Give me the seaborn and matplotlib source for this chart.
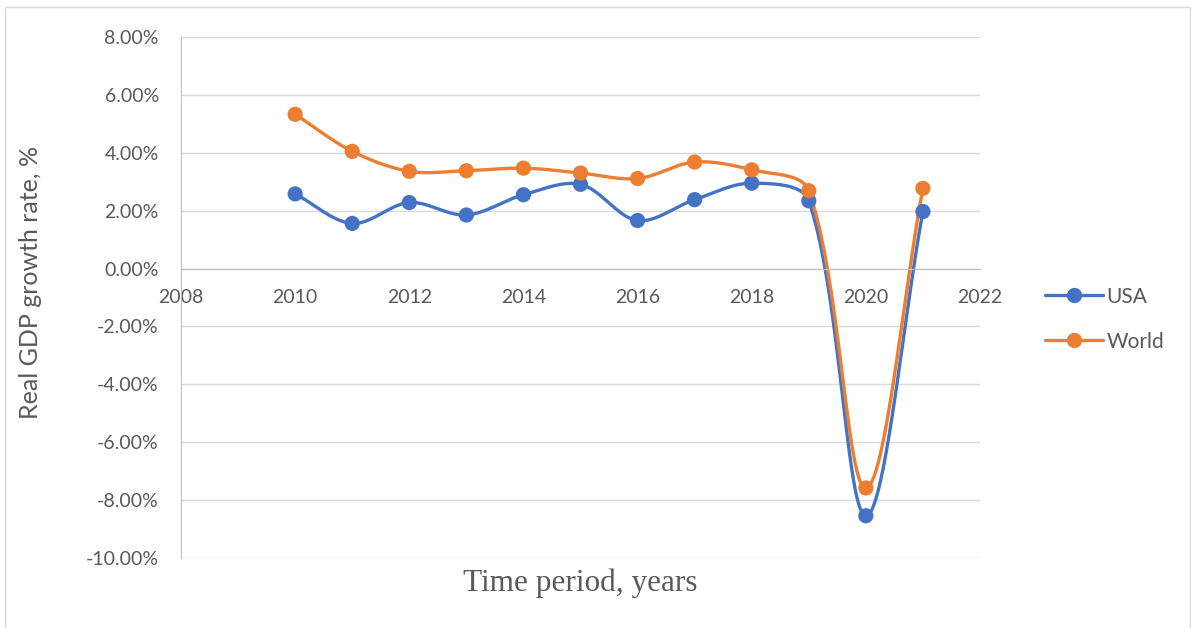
import numpy as np
import pandas as pd
import seaborn as sns
import matplotlib
matplotlib.use("Agg")
import matplotlib.pyplot as plt
from matplotlib.ticker import PercentFormatter
from matplotlib.lines import Line2D
from matplotlib.patches import Rectangle

# data
years = [2010, 2011, 2012, 2013, 2014, 2015, 2016, 2017, 2018, 2019, 2020, 2021]
usa = [2.58, 1.56, 2.28, 1.85, 2.55, 2.91, 1.66, 2.38, 2.95, 2.34, -8.54, 1.97]
world = [5.33, 4.05, 3.36, 3.38, 3.47, 3.30, 3.11, 3.68, 3.41, 2.69, -7.58, 2.77]
series_names = ["USA", "World"]
colors = {"USA": "#4472C4", "World": "#ED7D31"}

# pixel size of one x unit / one y unit, used only to weight the smoothing
XPX, YPX = 57.07, 28.94


def smooth(x, y, n=40):
    # excel-like smoothed line: bezier with chord-length weighted tangents
    x = np.asarray(x, float)
    y = np.asarray(y, float)
    px = np.concatenate([[x[0]], x, [x[-1]]])
    py = np.concatenate([[y[0]], y, [y[-1]]])
    P = np.column_stack([px, py])
    S = np.array([XPX, YPX])
    d = [np.linalg.norm((P[i + 1] - P[i]) * S) for i in range(len(P) - 1)]
    xs, ys = [], []
    t = np.linspace(0, 1, n)
    for i in range(1, len(P) - 2):
        p0, p3 = P[i], P[i + 1]
        a = d[i] / (d[i - 1] + d[i]) if d[i - 1] + d[i] > 0 else 0.5
        b = d[i] / (d[i] + d[i + 1]) if d[i] + d[i + 1] > 0 else 0.5
        p1 = p0 + (P[i + 1] - P[i - 1]) * a / 3
        p2 = p3 - (P[i + 2] - P[i]) * b / 3
        c = ((1 - t) ** 3)[:, None] * p0 + (3 * (1 - t) ** 2 * t)[:, None] * p1 \
            + (3 * (1 - t) * t ** 2)[:, None] * p2 + (t ** 3)[:, None] * p3
        xs.extend(c[:, 0])
        ys.extend(c[:, 1])
    return xs, ys


frames = []
pts = []
for name, vals in zip(series_names, [usa, world]):
    sx, sy = smooth(years, vals)
    frames.append(pd.DataFrame({"x": sx, "y": sy, "series": name}))
    pts.append(pd.DataFrame({"x": years, "y": vals, "series": name}))
curve = pd.concat(frames, ignore_index=True)
points = pd.concat(pts, ignore_index=True)

sns.set_style("white")
plt.rcParams["axes.unicode_minus"] = False
plt.rcParams["font.family"] = ["Lato", "DejaVu Sans"]

fig = plt.figure(figsize=(11.91, 6.28), dpi=100)
ax = fig.add_axes([181 / 1191, 1 - 558 / 628, (980 - 181) / 1191, (558 - 37) / 628])

sns.lineplot(data=curve, x="x", y="y", hue="series", palette=colors, sort=False,
             estimator=None, linewidth=2.4, legend=False, ax=ax)
sns.scatterplot(data=points, x="x", y="y", hue="series", palette=colors, s=120,
                edgecolor="none", legend=False, ax=ax, zorder=3)

ax.set_xlim(2008, 2022)
ax.set_ylim(-10, 8)
ax.set_xticks(range(2008, 2023, 2))
ax.set_yticks(np.arange(-10, 8.1, 2))
ax.yaxis.set_major_formatter(PercentFormatter(decimals=2))
ax.grid(axis="y", color="#D9D9D9", linewidth=1)
ax.grid(axis="x", visible=False)
ax.set_axisbelow(True)

for s in ["top", "right"]:
    ax.spines[s].set_visible(False)
ax.spines["left"].set_color("#BFBFBF")
ax.spines["bottom"].set_color("#BFBFBF")
ax.spines["bottom"].set_position(("data", 0))
ax.tick_params(axis="both", length=0, labelsize=14, labelcolor="#595959")
ax.tick_params(axis="x", pad=15)
ax.tick_params(axis="y", pad=16)

ax.set_xlabel("")
ax.set_ylabel("Real GDP growth rate, %", fontsize=18, color="#595959")
ax.yaxis.set_label_coords(-(181 - 42) / 799, (558 - 282) / 521)
fig.text(580 / 1191, 1 - 583 / 628, "Time period, years", family="Liberation Serif",
         fontsize=22.5, color="#595959", ha="center", va="center")

handles = [Line2D([], [], color=colors[n], marker="o", markersize=10, linewidth=2.4)
           for n in series_names]
fig.legend(handles, series_names, loc="center left", bbox_to_anchor=(1026 / 1191, 1 - 319 / 628),
           frameon=False, fontsize=15, labelcolor="#595959", handlelength=2.8,
           labelspacing=1.2, handletextpad=0.15)

fig.patches.append(Rectangle((5 / 1191, -0.05), 1 - 6.5 / 1191, 1.05 - 7 / 628, transform=fig.transFigure,
                             fill=False, edgecolor="#D9D9D9", linewidth=1))

fig.savefig("out.png", dpi=100)
